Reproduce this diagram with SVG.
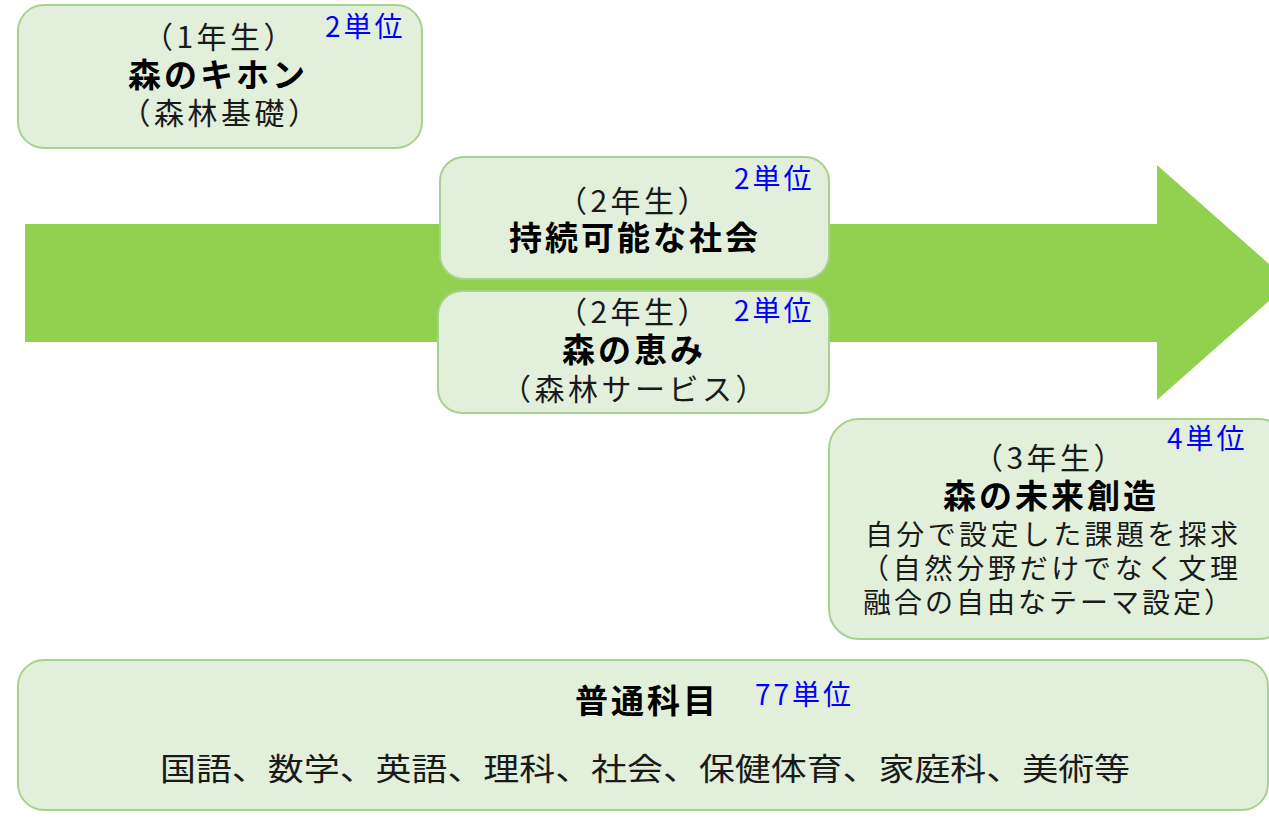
<svg xmlns="http://www.w3.org/2000/svg" width="1269" height="822" viewBox="0 0 1269 822">
<style>
.box{fill:#e2efda;stroke:#a9d18e;stroke-width:2}
text{font-family:"Noto Sans CJK JP","Noto Sans",sans-serif;fill:#1a1a1a;text-anchor:middle}
.n{font-size:30px;letter-spacing:3.5px}
.b{font-size:33px;font-weight:bold;letter-spacing:3px;fill:#000}
.u{font-size:28px;letter-spacing:3px;fill:#0000ff;text-anchor:start}
.l{font-size:28px;text-anchor:start}
.g{font-size:31px;text-anchor:start}
</style>
<rect width="1269" height="822" fill="#ffffff"/>
<g id="connectors">
<path d="M25,224 H1157 V165 L1290,282.5 L1157,400 V342 H25 Z" fill="#92d050"/>
</g>
<g id="node-year1">
<rect class="box" x="18" y="5" width="404" height="143" rx="26"/>
<text class="n" x="220" y="48">（1年生）</text>
<text class="b" x="218" y="87">森のキホン</text>
<text class="n" x="221" y="124">（森林基礎）</text>
<text class="u" x="325" y="37">2単位</text>
</g>
<g id="node-year2a">
<rect class="box" x="440" y="157" width="389" height="122" rx="24"/>
<text class="n" x="634" y="212">（2年生）</text>
<text class="b" x="635" y="250">持続可能な社会</text>
<text class="u" x="734" y="189">2単位</text>
</g>
<g id="node-year2b">
<rect class="box" x="438" y="291" width="391" height="122" rx="24"/>
<text class="n" x="634" y="323">（2年生）</text>
<text class="b" x="634" y="362">森の恵み</text>
<text class="n" x="635" y="400">（森林サービス）</text>
<text class="u" x="734" y="321">2単位</text>
</g>
<g id="node-year3">
<rect class="box" x="829" y="419" width="460" height="220" rx="30"/>
<text class="n" x="1050" y="469">（3年生）</text>
<text class="b" x="1051" y="508">森の未来創造</text>
<text class="l" x="865" y="545" textLength="373" lengthAdjust="spacing">自分で設定した課題を探求</text>
<text class="l" x="861" y="579" textLength="377" lengthAdjust="spacing">（自然分野だけでなく文理</text>
<text class="l" x="863" y="613" textLength="369" lengthAdjust="spacing">融合の自由なテーマ設定）</text>
<text class="u" x="1167" y="449">4単位</text>
</g>
<g id="node-general">
<rect class="box" x="18" y="660" width="1250" height="150" rx="26"/>
<text class="b" x="647" y="713">普通科目</text>
<text class="u" x="755" y="705">77単位</text>
<text class="g" x="160" y="780" textLength="970" lengthAdjust="spacingAndGlyphs">国語、数学、英語、理科、社会、保健体育、家庭科、美術等</text>
</g>
</svg>
